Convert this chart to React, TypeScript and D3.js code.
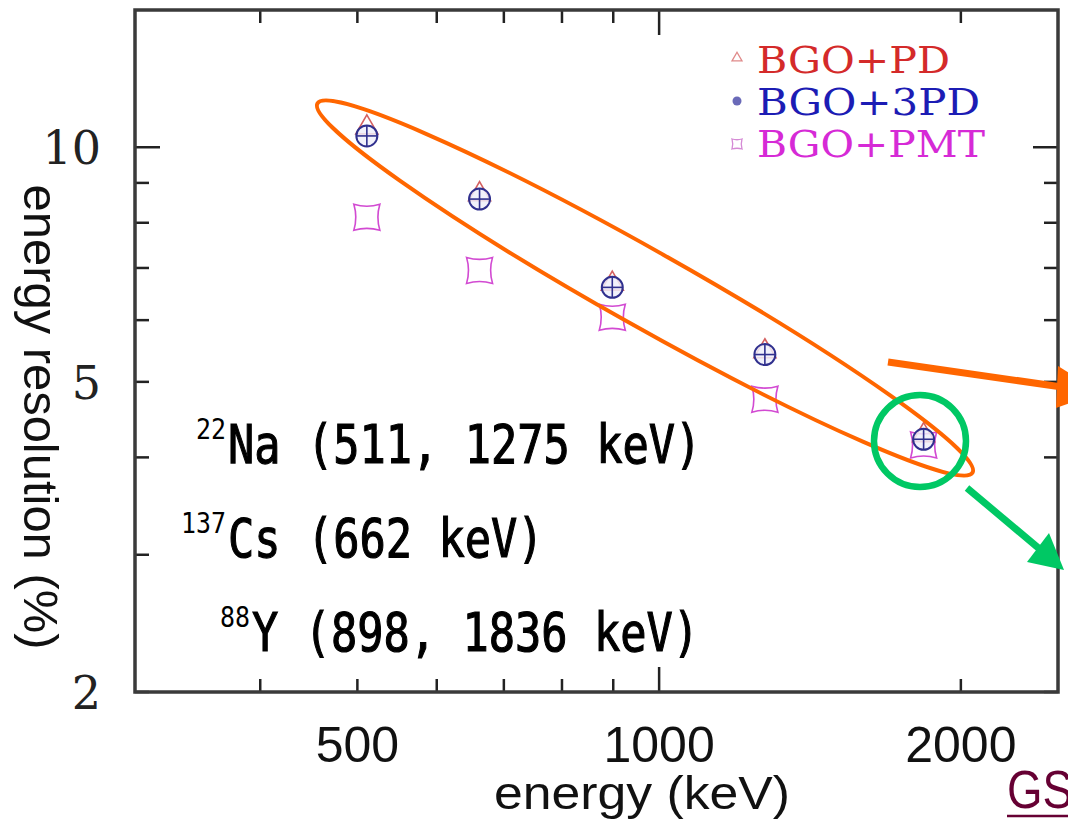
import React from 'react';
import * as d3 from 'd3';

// energies of the gamma lines (keV)
const energies = [511, 662, 898, 1275, 1836];
// energy resolution (%) per readout
const bgoPd = [10.6, 8.7, 6.68, 5.47, 4.27];
const bgo3Pd = [10.34, 8.58, 6.61, 5.42, 4.22];
const bgoPmt = [8.13, 6.95, 6.05, 4.75, 4.15];

const xTicks = [400, 500, 600, 700, 800, 900, 1000, 2000];
const xLabels = [500, 1000, 2000];
const yTicks = [2, 3, 4, 5, 6, 7, 8, 9, 10];
const yLabels = [2, 5, 10];

const legendItems = [
  { name: 'BGO+PD', color: '#d42a2a', kind: 'tri', width: 193 },
  { name: 'BGO+3PD', color: '#1c1cb4', kind: 'circ', width: 223 },
  { name: 'BGO+PMT', color: '#d62ad6', kind: 'pmt', width: 228 },
];

const sources = [
  { iso: '22', text: 'Na (511, 1275 keV)' },
  { iso: '137', text: 'Cs (662 keV)' },
  { iso: '88', text: 'Y (898, 1836 keV)' },
];

const W = 1068;
const H = 826;
const frame = { left: 135, right: 1058, top: 10, bottom: 692 };

const pmtPath = (s: number) => {
  const k = s * 0.7;
  return `M${-s},${-s} Q0,${-k} ${s},${-s} Q${k},0 ${s},${s} Q0,${k} ${-s},${s} Q${-k},0 ${-s},${-s} Z`;
};

const triPath = (s: number) => {
  const h = s * 0.866;
  return `M0,${(-2 * h) / 3} L${s / 2},${h / 3} L${-s / 2},${h / 3} Z`;
};

export default function App() {
  const x = d3.scaleLog().domain([300, 2500]).range([frame.left, frame.right]);
  const y = d3.scaleLog().domain([2, 15]).range([frame.bottom, frame.top]);

  const sansCond = 'Liberation Sans, Arial, sans-serif';
  const mono = 'DejaVu Sans Mono, monospace';

  return (
    <svg
      width={W}
      height={H}
      style={{ position: 'absolute', left: 0, top: 0, background: '#fff' }}
    >
      <rect width={W} height={H} fill="#fff" />

      {/* ticks */}
      <g stroke="#222" strokeWidth={2.5}>
        {xTicks.map((t) => {
          const len = t === 1000 ? 25 : 13;
          return (
            <g key={'x' + t}>
              <line x1={x(t)} x2={x(t)} y1={frame.bottom} y2={frame.bottom - len} />
              <line x1={x(t)} x2={x(t)} y1={frame.top} y2={frame.top + len} />
            </g>
          );
        })}
        {yTicks.map((t) => {
          const len = t === 10 ? 25 : 14;
          return (
            <g key={'y' + t}>
              <line x1={frame.left} x2={frame.left + len} y1={y(t)} y2={y(t)} />
              <line x1={frame.right} x2={frame.right - len} y1={y(t)} y2={y(t)} />
            </g>
          );
        })}
      </g>

      <rect
        x={frame.left}
        y={frame.top}
        width={frame.right - frame.left}
        height={frame.bottom - frame.top}
        fill="none"
        stroke="#3a3a3a"
        strokeWidth={3.5}
      />

      {/* tick labels */}
      {xLabels.map((t) => (
        <text
          key={'xl' + t}
          x={x(t)}
          y={762}
          textAnchor="middle"
          fontFamily={sansCond}
          fontSize={50}
          fill="#111"
        >
          {t}
        </text>
      ))}
      {yLabels.map((t) => (
        <text
          key={'yl' + t}
          x={101}
          y={y(t) + 17}
          textAnchor="end"
          fontFamily="DejaVu Serif, serif"
          fontSize={46}
          fill="#222"
        >
          {t}
        </text>
      ))}

      {/* axis titles */}
      <text
        x={642}
        y={809}
        textAnchor="middle"
        fontFamily={sansCond}
        fontSize={47}
        textLength={296}
        lengthAdjust="spacingAndGlyphs"
        fill="#111"
      >
        energy (keV)
      </text>
      <text
        transform="translate(24,417) rotate(90)"
        textAnchor="middle"
        fontFamily={sansCond}
        fontSize={49}
        textLength={465}
        lengthAdjust="spacingAndGlyphs"
        fill="#111"
      >
        energy resolution (%)
      </text>

      {/* data */}
      <g fill="none" strokeWidth={1.6}>
        {energies.map((e, i) => (
          <path
            key={'pmt' + i}
            d={pmtPath(13)}
            transform={`translate(${x(e)},${y(bgoPmt[i])})`}
            stroke="#d24ad2"
          />
        ))}
        {energies.map((e, i) => (
          <path
            key={'pd' + i}
            d={triPath(22)}
            transform={`translate(${x(e)},${y(bgoPd[i])})`}
            stroke="#d46060"
          />
        ))}
        {energies.map((e, i) => (
          <g key={'3pd' + i} transform={`translate(${x(e)},${y(bgo3Pd[i])})`} stroke="#30308e">
            <circle r={10.5} fill="#eeeefa" fillOpacity={0.85} strokeWidth={2} />
            <line x1={-10.5} x2={10.5} y1={0} y2={0} />
            <line x1={0} x2={0} y1={-10.5} y2={10.5} />
          </g>
        ))}
      </g>

      {/* legend */}
      {legendItems.map((it, i) => {
        const ly = 58 + i * 42;
        return (
          <g key={it.name}>
            {it.kind === 'tri' && (
              <path d={triPath(10)} transform={`translate(737,${ly})`} fill="none" stroke="#e08a8a" strokeWidth={1.3} />
            )}
            {it.kind === 'circ' && <circle cx={737} cy={ly + 1} r={4.5} fill="#6a6ab8" />}
            {it.kind === 'pmt' && (
              <path d={pmtPath(5)} transform={`translate(737,${ly + 2})`} fill="none" stroke="#d58ad5" strokeWidth={1.3} />
            )}
            <text
              x={757}
              y={ly + 15}
              fontFamily="DejaVu Serif, serif"
              fontSize={38}
              textLength={it.width}
              lengthAdjust="spacingAndGlyphs"
              fill={it.color}
            >
              {it.name}
            </text>
          </g>
        );
      })}

      {/* isotope annotations */}
      {sources.map((s, i) => {
        const by = 463 + i * 94;
        const sx = i === 2 ? 252 : 228;
        return (
          <g key={s.iso} fill="#000" fontFamily={mono}>
            <text x={sx - 2} y={by - 24} fontSize={28} textAnchor="end" textLength={s.iso.length * 15} lengthAdjust="spacingAndGlyphs">
              {s.iso}
            </text>
            <text
              x={sx}
              y={by}
              fontSize={54}
              stroke="#000"
              strokeWidth={1.2}
              textLength={s.text.length * 26.3}
              lengthAdjust="spacingAndGlyphs"
            >
              {s.text}
            </text>
          </g>
        );
      })}

      {/* hand-drawn overlays */}
      <ellipse
        cx={645}
        cy={288}
        rx={376}
        ry={38}
        transform="rotate(29.4 645 288)"
        fill="none"
        stroke="#ff6600"
        strokeWidth={4}
      />
      <line x1={888} y1={362} x2={1062} y2={387} stroke="#ff6600" strokeWidth={7} />
      <polygon points="1058,366 1100,392 1056,408" fill="#ff6600" />

      <circle cx={920} cy={441} r={46} fill="none" stroke="#00c864" strokeWidth={6.5} />
      <line x1={967} y1={488} x2={1042} y2={551} stroke="#00c864" strokeWidth={7} />
      <polygon points="1064,570 1027,562 1049,533" fill="#00c864" />

      {/* GS link */}
      <text x={1007} y={808} fontFamily={sansCond} fontSize={54} textLength={66} lengthAdjust="spacingAndGlyphs" fill="#660033">
        GS
      </text>
      <line x1={1007} x2={1068} y1={816} y2={816} stroke="#660033" strokeWidth={2.5} />
    </svg>
  );
}
